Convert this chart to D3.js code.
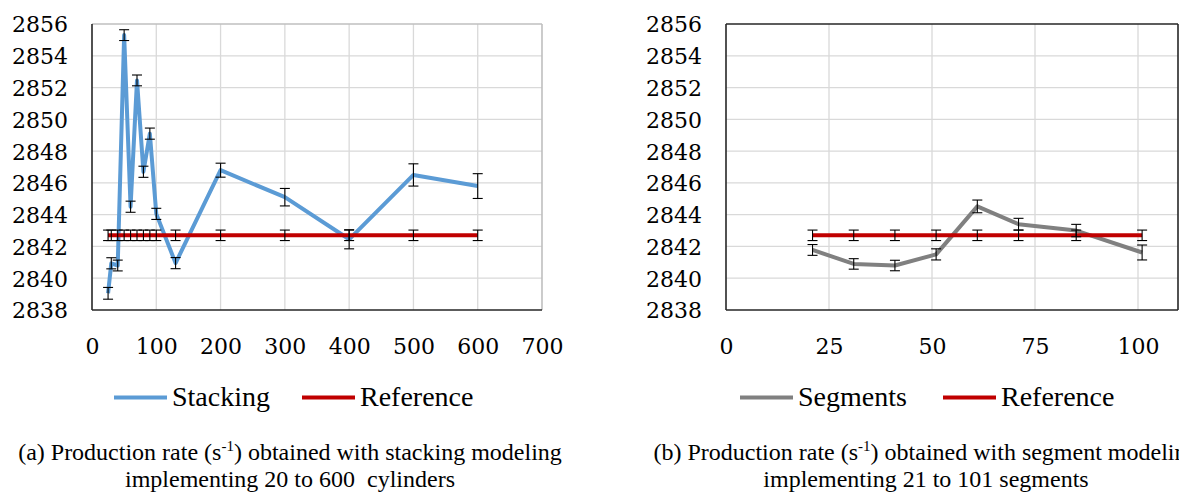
<!DOCTYPE html>
<html>
<head>
<meta charset="utf-8">
<script src="https://cdn.jsdelivr.net/npm/d3@7/dist/d3.min.js"></script>
<style>
  html, body { margin: 0; padding: 0; background: #fff; }
  svg { display: block; }
</style>
</head>
<body>
<svg id="chart" width="1179" height="495"></svg>
<script>
// ---------------- data ----------------
const yTicks = [2838, 2840, 2842, 2844, 2846, 2848, 2850, 2852, 2854, 2856];

const stackX   = [25, 30, 40, 50, 60, 70, 80, 90, 100, 130, 200, 300, 400, 500, 600];
const stackY   = [2839.05, 2840.94, 2840.8, 2855.3, 2844.5, 2852.45, 2846.7, 2849.1, 2844.05, 2840.95, 2846.8, 2845.1, 2842.45, 2846.5, 2845.8];
const stackErr = [0.37, 0.35, 0.34, 0.34, 0.35, 0.34, 0.35, 0.35, 0.35, 0.35, 0.44, 0.55, 0.6, 0.7, 0.78];
const stackRefY   = [2842.7, 2842.7, 2842.7, 2842.7, 2842.7, 2842.7, 2842.7, 2842.7, 2842.7, 2842.7, 2842.7, 2842.7, 2842.7, 2842.7, 2842.7];
const stackRefErr = [0.33, 0.33, 0.33, 0.33, 0.33, 0.33, 0.33, 0.33, 0.33, 0.33, 0.33, 0.33, 0.33, 0.33, 0.33];
const stackXTicks = [0, 100, 200, 300, 400, 500, 600, 700];

const segX   = [21, 31, 41, 51, 61, 71, 85, 101];
const segY   = [2841.78, 2840.9, 2840.8, 2841.5, 2844.52, 2843.4, 2843.0, 2841.62];
const segErr = [0.34, 0.33, 0.33, 0.35, 0.4, 0.37, 0.39, 0.47];
const segRefY   = [2842.7, 2842.7, 2842.7, 2842.7, 2842.7, 2842.7, 2842.7, 2842.7];
const segRefErr = [0.33, 0.33, 0.33, 0.33, 0.33, 0.33, 0.33, 0.33];
const segXTicks = [0, 25, 50, 75, 100];

const legendA = ["Stacking", "Reference"];
const legendB = ["Segments", "Reference"];
const captionA = ["(a) Production rate (s", "-1", ") obtained with stacking modeling", "implementing 20 to 600  cylinders"];
const captionB = ["(b) Production rate (s", "-1", ") obtained with segment modeling", "implementing 21 to 101 segments"];

// ---------------- drawing ----------------
const svg = d3.select("#chart");
const BLUE = "#5b9bd5", RED = "#c00000", GRAY = "#808080";
const NUMFONT = "'DejaVu Serif', serif";
const TXTFONT = "'Liberation Serif', 'Times New Roman', serif";

function panel(opt) {
  const g = svg.append("g");
  const x = d3.scaleLinear().domain(opt.xDomain).range([opt.left, opt.xRangeEnd]);
  const y = d3.scaleLinear().domain([2838, 2856]).range([310, 24]);
  const right = opt.right, top = 24, bottom = 310, left = opt.left;

  // gridlines
  g.append("g").selectAll("line").data(yTicks.slice(1, -1)).join("line")
    .attr("x1", left).attr("x2", right).attr("y1", d => y(d)).attr("y2", d => y(d))
    .attr("stroke", "#d9d9d9").attr("stroke-width", 1.3);
  g.append("g").selectAll("line").data(opt.vGrid).join("line")
    .attr("x1", d => x(d)).attr("x2", d => x(d)).attr("y1", top).attr("y2", bottom)
    .attr("stroke", "#d9d9d9").attr("stroke-width", 1.3);

  // border
  g.append("line").attr("x1", left).attr("x2", right).attr("y1", top).attr("y2", top)
    .attr("stroke", opt.topColor).attr("stroke-width", 1.6);
  g.append("line").attr("x1", right).attr("x2", right).attr("y1", top).attr("y2", bottom)
    .attr("stroke", opt.topColor).attr("stroke-width", 1.6);
  g.append("line").attr("x1", left).attr("x2", right).attr("y1", bottom).attr("y2", bottom)
    .attr("stroke", "#262626").attr("stroke-width", 1.6);
  g.append("line").attr("x1", left).attr("x2", left).attr("y1", top).attr("y2", bottom)
    .attr("stroke", "#262626").attr("stroke-width", 1.6);

  // axes labels
  const ya = g.append("g").attr("transform", `translate(${left},0)`)
    .call(d3.axisLeft(y).tickValues(yTicks).tickFormat(d3.format("d")).tickSize(0).tickPadding(24));
  ya.select(".domain").remove();
  ya.attr("font-family", null).attr("font-size", null);
  ya.selectAll("text").attr("dy", "0.36em")
    .style("font-family", NUMFONT).style("font-size", "22px").style("fill", "#000");

  const xa = g.append("g").attr("transform", `translate(0,337)`)
    .call(d3.axisBottom(x).tickValues(opt.xTicks).tickFormat(d3.format("d")).tickSize(0).tickPadding(0));
  xa.select(".domain").remove();
  xa.attr("font-family", null).attr("font-size", null);
  xa.selectAll("text").attr("dy", "0.75em").attr("y", 0)
    .style("font-family", NUMFONT).style("font-size", "22px").style("fill", "#000");

  const line = d3.line().x(d => x(d[0])).y(d => y(d[1]));
  const mainPts = opt.xs.map((v, i) => [v, opt.ys[i]]);
  const refPts = opt.xs.map((v, i) => [v, opt.refY[i]]);

  g.append("path").datum(mainPts).attr("d", line).attr("fill", "none")
    .attr("stroke", opt.color).attr("stroke-width", 4).attr("stroke-linejoin", "round");
  g.append("path").datum(refPts).attr("d", line).attr("fill", "none")
    .attr("stroke", RED).attr("stroke-width", 4).attr("stroke-linejoin", "round");

  function errBars(xs, ys, es) {
    const eg = g.append("g").attr("stroke", "#000").attr("stroke-width", 1.1);
    xs.forEach((v, i) => {
      const cx = x(v), y1 = y(ys[i] + es[i]), y2 = y(ys[i] - es[i]);
      eg.append("line").attr("x1", cx).attr("x2", cx).attr("y1", y1).attr("y2", y2);
      eg.append("line").attr("x1", cx - 5).attr("x2", cx + 5).attr("y1", y1).attr("y2", y1);
      eg.append("line").attr("x1", cx - 5).attr("x2", cx + 5).attr("y1", y2).attr("y2", y2);
    });
  }
  errBars(opt.xs, opt.ys, opt.err);
  errBars(opt.xs, opt.refY, opt.refErr);

  // legend
  const lg = g.append("g");
  lg.append("line").attr("x1", opt.leg[0]).attr("x2", opt.leg[0] + 53).attr("y1", 397.5).attr("y2", 397.5)
    .attr("stroke", opt.color).attr("stroke-width", 4);
  lg.append("text").attr("x", opt.leg[0] + 58).attr("y", 406)
    .style("font-family", TXTFONT).style("font-size", "28px").text(opt.legend[0]);
  lg.append("line").attr("x1", opt.leg[1]).attr("x2", opt.leg[1] + 53).attr("y1", 397.5).attr("y2", 397.5)
    .attr("stroke", RED).attr("stroke-width", 4);
  lg.append("text").attr("x", opt.leg[1] + 58).attr("y", 406)
    .style("font-family", TXTFONT).style("font-size", "28px").text(opt.legend[1]);

  // caption
  const c1 = g.append("text").attr("x", opt.capX).attr("y", 460)
    .style("font-family", TXTFONT).style("font-size", "24px").attr("text-anchor", "middle");
  c1.append("tspan").text(opt.caption[0]);
  c1.append("tspan").style("font-size", "15px").attr("dy", -9).text(opt.caption[1]);
  c1.append("tspan").attr("dy", 9).text(opt.caption[2]);
  g.append("text").attr("x", opt.capX).attr("y", 487)
    .style("font-family", TXTFONT).style("font-size", "24px")
    .attr("text-anchor", "middle").style("white-space", "pre")
    .text(opt.caption[3]);
}

panel({
  xDomain: [0, 700], left: 92, xRangeEnd: 542, right: 542,
  vGrid: [100, 200, 300, 400, 500, 600], xTicks: stackXTicks,
  topColor: "#bfbfbf", color: BLUE,
  xs: stackX, ys: stackY, err: stackErr, refY: stackRefY, refErr: stackRefErr,
  legend: legendA, leg: [114, 302], caption: captionA, capX: 290
});

panel({
  xDomain: [0, 100], left: 726, xRangeEnd: 1138, right: 1178,
  vGrid: [25, 50, 75, 100], xTicks: segXTicks,
  topColor: "#262626", color: GRAY,
  xs: segX, ys: segY, err: segErr, refY: segRefY, refErr: segRefErr,
  legend: legendB, leg: [740, 943], caption: captionB, capX: 926
});
</script>
</body>
</html>
